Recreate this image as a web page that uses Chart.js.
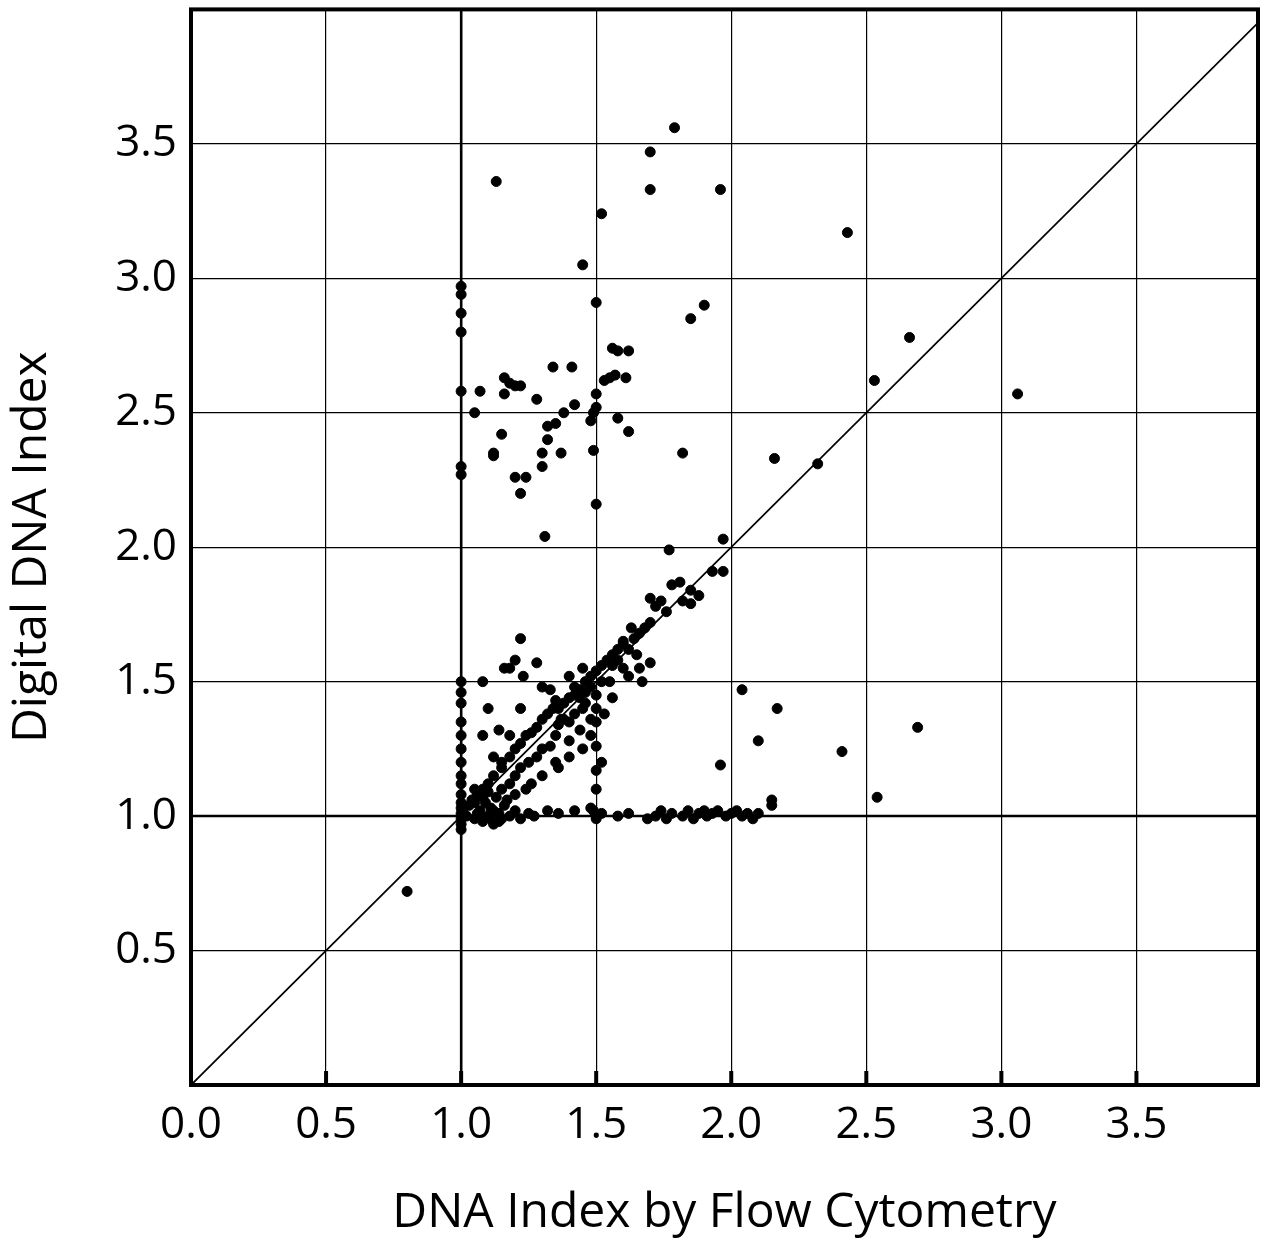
<!DOCTYPE html>
<html>
<head>
<meta charset="utf-8">
<script src="https://cdn.jsdelivr.net/npm/chart.js@4"></script>
<style>
  html, body { margin: 0; padding: 0; background: #fff; }
  #wrap { width: 1280px; height: 1246px; overflow: hidden; position: relative; }
  #dnaChart { position: absolute; left: 0; top: -31px; }
</style>
</head>
<body>
<div id="wrap"><canvas id="dnaChart" width="1280" height="1277"></canvas></div>
<script>
// Tick labels
const xTickLabels = ['0.0', '0.5', '1.0', '1.5', '2.0', '2.5', '3.0', '3.5'];
const yTickLabels = ['0.5', '1.0', '1.5', '2.0', '2.5', '3.0', '3.5'];

// Scattered outliers [flow, digital]
const outliers = [
  [0.80,0.72],[1.13,3.36],[1.70,3.47],[1.79,3.56],[1.70,3.33],[1.96,3.33],[1.52,3.24],
  [2.43,3.17],[1.45,3.05],[1.50,2.91],[1.90,2.90],[1.85,2.85],[2.66,2.78],[2.53,2.62],
  [3.06,2.57],[2.16,2.33],[2.32,2.31],[1.82,2.35],[1.31,2.04],[1.50,2.16],[1.97,2.03],
  [1.93,1.91],[1.97,1.91],[1.77,1.99],[1.81,1.87],[1.85,1.84],[2.04,1.47],[2.17,1.40],
  [2.10,1.28],[2.41,1.24],[2.69,1.33],[2.54,1.07],[1.96,1.19]
];

// Column of points at flow index 1.0
const diploidColumn = [
  [1.0,2.97],[1.0,2.94],[1.0,2.87],[1.0,2.80],[1.0,2.58],[1.0,2.30],[1.0,2.27],[1.0,1.50],
  [1.0,1.46],[1.0,1.42],[1.0,1.35],[1.0,1.30],[1.0,1.25],[1.0,1.20],[1.0,1.15],[1.0,1.12],
  [1.0,1.08],[1.0,1.05],[1.0,1.03],[1.0,1.01],[1.0,0.99],[1.0,0.97],[1.0,0.95]
];

// Upper cluster
const upperCluster = [
  [1.05,2.50],[1.07,2.58],[1.12,2.35],[1.12,2.34],[1.15,2.42],[1.16,2.57],[1.16,2.63],
  [1.18,2.61],[1.20,2.60],[1.22,2.60],[1.20,2.26],[1.22,2.20],[1.24,2.26],[1.28,2.55],
  [1.30,2.30],[1.30,2.35],[1.32,2.45],[1.32,2.40],[1.34,2.67],[1.35,2.46],[1.37,2.35],
  [1.38,2.50],[1.41,2.67],[1.42,2.53],[1.48,2.47],[1.49,2.50],[1.50,2.57],[1.50,2.52],
  [1.49,2.36],[1.53,2.62],[1.55,2.63],[1.56,2.74],[1.58,2.73],[1.57,2.64],[1.58,2.48],
  [1.61,2.63],[1.62,2.73],[1.62,2.43]
];

// Points near the diagonal
const diagonalCluster = [
  [1.05,1.05],[1.08,1.10],[1.10,1.12],[1.12,1.15],[1.15,1.18],[1.18,1.22],[1.20,1.25],
  [1.22,1.27],[1.24,1.30],[1.26,1.31],[1.28,1.33],[1.30,1.36],[1.32,1.38],[1.34,1.40],
  [1.36,1.40],[1.38,1.42],[1.40,1.44],[1.42,1.45],[1.44,1.47],[1.46,1.50],[1.48,1.52],
  [1.50,1.54],[1.52,1.56],[1.54,1.58],[1.56,1.60],[1.58,1.62],[1.60,1.64],[1.62,1.62],
  [1.64,1.66],[1.66,1.68],[1.68,1.70],[1.70,1.72],[1.72,1.78],[1.70,1.81],[1.74,1.80],
  [1.76,1.76],[1.65,1.60],[1.60,1.55],[1.55,1.50],[1.50,1.45],[1.45,1.40],[1.40,1.35],
  [1.35,1.30],[1.30,1.25],[1.25,1.20],[1.20,1.15],[1.15,1.10],[1.38,1.36],[1.42,1.38],
  [1.46,1.42],[1.48,1.48],[1.52,1.50],[1.36,1.34],[1.33,1.26],[1.28,1.22],[1.22,1.18],
  [1.18,1.12],[1.62,1.52],[1.66,1.55],[1.70,1.57],[1.67,1.50],[1.56,1.44],[1.53,1.38],
  [1.48,1.36],[1.44,1.32],[1.40,1.28],[1.35,1.20],[1.30,1.15],[1.26,1.12],[1.24,1.10],
  [1.20,1.08],[1.15,1.20],[1.12,1.22],[1.18,1.30],[1.22,1.40],[1.28,1.57],[1.18,1.55],
  [1.20,1.58],[1.16,1.55],[1.22,1.66],[1.23,1.52],[1.30,1.48],[1.33,1.47],[1.35,1.43],
  [1.40,1.52],[1.45,1.55],[1.42,1.48],[1.50,1.40],[1.48,1.30],[1.50,1.26],[1.40,1.22],
  [1.45,1.25],[1.36,1.18],[1.37,1.36],[1.44,1.44],[1.46,1.46],[1.56,1.56],[1.58,1.58],
  [1.08,1.50],[1.08,1.30],[1.10,1.40],[1.14,1.32],[1.52,1.20],[1.82,1.80],[1.85,1.79],
  [1.88,1.82],[1.60,1.65],[1.63,1.70],[1.78,1.86],[1.50,1.10],[1.50,1.17],[1.50,1.35]
];

// Points along digital index 1.0
const diploidRow = [
  [1.02,1.00],[1.04,1.06],[1.05,0.99],[1.06,1.08],[1.07,1.02],[1.08,0.98],[1.09,1.05],
  [1.10,1.00],[1.11,1.03],[1.12,0.97],[1.13,1.07],[1.14,1.01],[1.15,0.99],[1.16,1.04],
  [1.18,1.00],[1.20,1.02],[1.22,0.99],[1.25,1.01],[1.27,1.00],[1.32,1.02],[1.36,1.01],
  [1.42,1.02],[1.48,1.03],[1.49,1.02],[1.50,0.99],[1.50,1.00],[1.52,1.01],[1.58,1.00],
  [1.62,1.01],[1.69,0.99],[1.72,1.00],[1.74,1.02],[1.76,0.99],[1.78,1.01],[1.82,1.00],
  [1.84,1.02],[1.86,0.99],[1.88,1.01],[1.90,1.02],[1.91,1.00],[1.93,1.01],[1.95,1.02],
  [1.98,1.00],[2.00,1.01],[2.02,1.02],[2.04,1.00],[2.06,1.01],[2.08,0.99],[2.10,1.01],
  [2.15,1.04],[2.15,1.06],[1.03,1.04],[1.05,1.10],[1.08,1.07],[1.10,1.09],[1.12,1.02],
  [1.14,0.98],[1.06,1.01],[1.11,0.99],[1.17,1.06]
];

// Line of identity
const identityLine = [[0, 0], [3.95, 3.95]];

const toXY = arr => arr.map(p => ({ x: p[0], y: p[1] }));
const allPoints = [].concat(outliers, diploidColumn, upperCluster, diagonalCluster, diploidRow);

// Border + thick reference lines
const framePlugin = {
  id: 'frame',
  afterDatasetsDraw(chart) {
    const { ctx, chartArea: a, scales } = chart;
    ctx.save();
    ctx.strokeStyle = '#000';
    ctx.lineWidth = 2.5;
    const x1 = scales.x.getPixelForValue(1), y1 = scales.y.getPixelForValue(1);
    ctx.beginPath();
    ctx.moveTo(x1, a.top); ctx.lineTo(x1, a.bottom);
    ctx.moveTo(a.left, y1); ctx.lineTo(a.right, y1);
    ctx.stroke();
    // inward ticks on bottom axis
    ctx.lineWidth = 4;
    ctx.beginPath();
    [0.5, 1, 1.5, 2, 2.5, 3, 3.5].forEach(v => {
      const px = scales.x.getPixelForValue(v);
      ctx.moveTo(px, a.bottom); ctx.lineTo(px, a.bottom - 14);
    });
    ctx.stroke();
    ctx.strokeRect(a.left, a.top, a.right - a.left, a.bottom - a.top);
    ctx.restore();
  }
};

const fontFam = '"Open Sans", "Liberation Sans", sans-serif';

new Chart(document.getElementById('dnaChart'), {
  type: 'scatter',
  data: {
    datasets: [
      {
        data: toXY(allPoints),
        backgroundColor: '#000',
        borderColor: '#000',
        pointRadius: 5,
        pointHoverRadius: 5
      },
      {
        type: 'line',
        data: toXY(identityLine),
        borderColor: '#000',
        borderWidth: 1.8,
        pointRadius: 0,
        fill: false
      }
    ]
  },
  plugins: [framePlugin],
  options: {
    responsive: false,
    animation: false,
    layout: { padding: { top: 0, right: 22, left: 0, bottom: 0 } },
    plugins: { legend: { display: false }, tooltip: { enabled: false } },
    scales: {
      x: {
        type: 'linear', min: 0, max: 3.95,
        afterBuildTicks: s => { s.ticks = xTickLabels.map(t => ({ value: parseFloat(t) })); },
        afterFit: s => { s.height = 161; },
        ticks: {
          color: '#000', font: { family: fontFam, size: 44 }, padding: 14,
          callback: v => xTickLabels.find(t => parseFloat(t) === v) || ''
        },
        grid: { color: '#000', lineWidth: 1.2, tickLength: 0, drawTicks: false },
        border: { display: false },
        title: { display: true, text: 'DNA Index by Flow Cytometry', color: '#000',
                 font: { family: fontFam, size: 48 }, padding: { top: 8 } }
      },
      y: {
        type: 'linear', min: 0, max: 4.0,
        afterBuildTicks: s => { s.ticks = yTickLabels.map(t => ({ value: parseFloat(t) })); },
        afterFit: s => { s.width = 191; },
        ticks: {
          color: '#000', font: { family: fontFam, size: 44 }, padding: 14,
          callback: v => yTickLabels.find(t => parseFloat(t) === v) || ''
        },
        grid: { color: '#000', lineWidth: 1.2, tickLength: 0, drawTicks: false },
        border: { display: false },
        title: { display: true, text: 'Digital DNA Index', color: '#000',
                 font: { family: fontFam, size: 48 }, padding: { bottom: 0 } }
      }
    }
  }
});
</script>
</body>
</html>
